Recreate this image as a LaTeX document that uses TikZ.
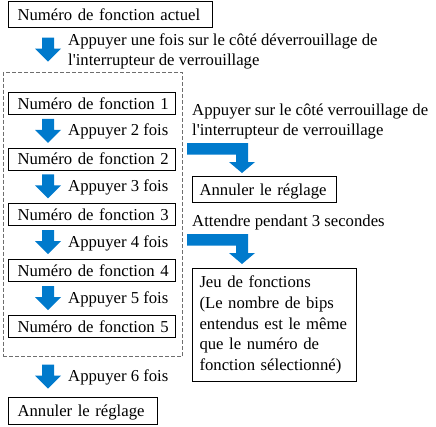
\documentclass[tikz,border=0pt]{standalone}
\usepackage{fontspec}
\setmainfont{Liberation Serif}
\definecolor{arrblue}{RGB}{0,122,204}
\definecolor{dashgray}{RGB}{110,110,110}
\begin{document}
\begin{tikzpicture}[x=1pt,y=-1pt,
  every node/.style={font=\fontsize{16.7pt}{20.7pt}\selectfont, inner sep=0pt},
  boxbase/.style={draw=black, line width=1pt, inner xsep=9pt, anchor=north west, align=left},
  box/.style={boxbase, text height=11pt, text depth=0pt},
  lbl/.style={anchor=base west},
  grp/.style={draw=dashgray, line width=1.3pt, dash pattern=on 4pt off 2pt, anchor=north west},
  darrow/.pic={\fill[arrblue] (-6,-12) -- (6,-12) -- (6,-1) -- (13,-1) -- (0,12) -- (-13,-1) -- (-6,-1) -- cycle;},
  barrow/.pic={\fill[arrblue] (0,0) -- (61,0) -- (61,19) -- (68,19) -- (55,30) -- (42,19) -- (49,19) -- (49,11.5) -- (0,11.5) -- cycle;}]
\useasboundingbox (0,0) rectangle (436,426);

% left column
\node[box, text width=186, minimum height=26] (cur) at (8,1) {\mbox{Numéro de fonction actuel}};
\pic at (48,49.5) {darrow};
\node[lbl] (t0a) at (68,45) {Appuyer une fois sur le côté déverrouillage de};
\node[lbl] (t0b) at (68,65) {l\textquotesingle interrupteur de verrouillage};

\node[grp, minimum width=179.5, minimum height=284] (grp) at (2.5,72) {};

\foreach \i/\t in {1/92,2/147.5,3/203,4/259,5/315}
  \node[box, text width=149, minimum height=22] (f\i) at (8,\t) {\mbox{Numéro de fonction \i}};

\foreach \n/\c in {2/130.75,3/186.25,4/242,5/298} {
  \pic at (48,\c) {darrow};
  \node[lbl] (a\n) at (68,\c+5) {Appuyer \n{} fois};
}

\pic at (48,376.5) {darrow};
\node[lbl] (a6) at (68,381.5) {Appuyer 6 fois};
\node[box, text width=131, minimum height=27] (cancel1) at (8,397) {\mbox{Annuler le réglage}};

% right column
\node[lbl] (r1a) at (192,115) {Appuyer sur le côté verrouillage de};
\node[lbl] (r1b) at (192,135) {l\textquotesingle interrupteur de verrouillage};
\pic at (187,143) {barrow};
\node[box, inner xsep=7pt, text width=130, minimum height=26] (cancel2) at (192,176) {\mbox{Annuler le réglage}};

\node[lbl] (r2) at (192,226.5) {Attendre pendant 3 secondes};
\pic at (187,234) {barrow};
\node[boxbase, inner xsep=7pt, text width=150, minimum height=113] (jeu) at (192,268)
  {Jeu de fonctions\\(Le nombre de bips\\entendus est le même\\que le numéro de\\fonction sélectionné)};
\end{tikzpicture}
\end{document}
